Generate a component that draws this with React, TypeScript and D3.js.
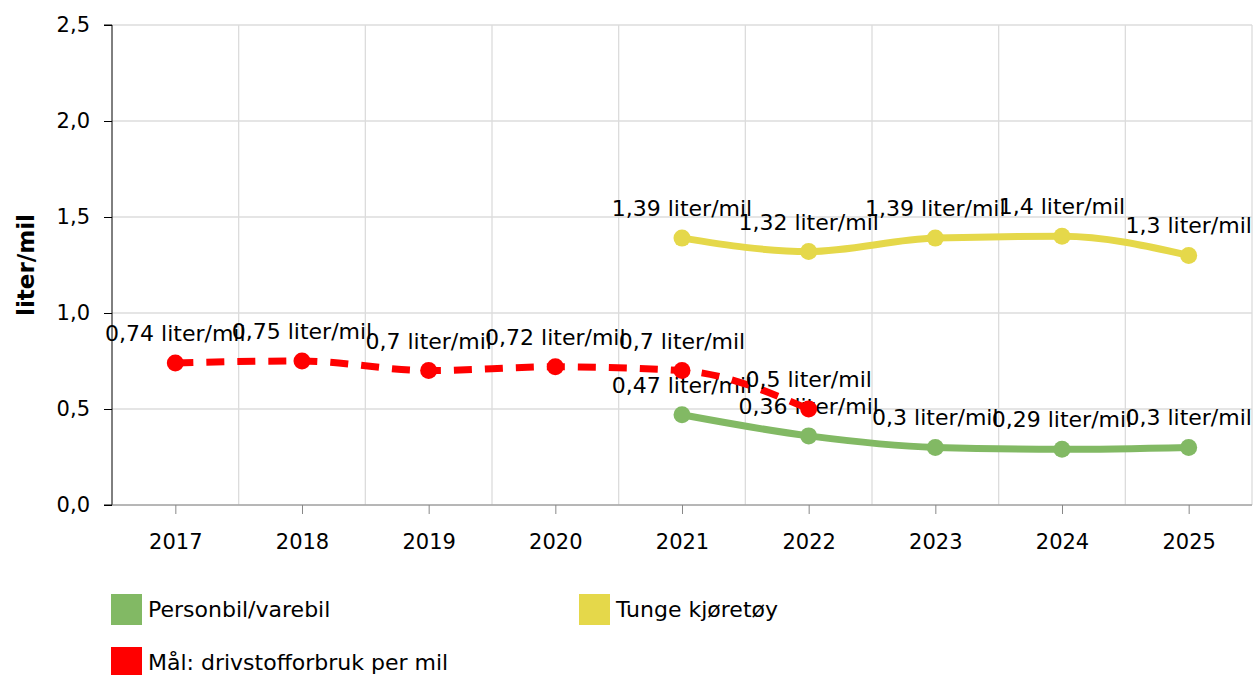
import React, { useEffect, useRef } from 'react'
import * as d3 from 'd3'

const years = ['2017', '2018', '2019', '2020', '2021', '2022', '2023', '2024', '2025']
const personbil = [null, null, null, null, 0.47, 0.36, 0.3, 0.29, 0.3]
const tunge = [null, null, null, null, 1.39, 1.32, 1.39, 1.4, 1.3]
const maal = [0.74, 0.75, 0.7, 0.72, 0.7, 0.5, null, null, null]
const yTicks = [0, 0.5, 1, 1.5, 2, 2.5]

const series = [
  { name: 'Personbil/varebil', values: personbil, color: '#82b964', dash: null },
  { name: 'Tunge kjøretøy', values: tunge, color: '#e5d84a', dash: null },
  { name: 'Mål: drivstofforbruk per mil', values: maal, color: '#ff0000', dash: '18,13' },
]

const W = 1255
const H = 675
const left = 112
const right = 1252
const top = 25
const bottom = 505
const font = 'DejaVu Sans, Verdana, sans-serif'

const no = d3.formatLocale({ decimal: ',', thousands: ' ', grouping: [3], currency: ['', ' kr'] })
const fmtAxis = no.format('.1f')
const fmtVal = (v: number) => no.format('~g')(v) + ' liter/mil'

const App = () => {
  const refX = useRef(null)
  const refY = useRef(null)

  const x = d3.scaleBand().domain(years).range([left, right])
  const cx = (d: string) => (x(d) as number) + x.bandwidth() / 2
  const y = d3.scaleLinear().domain([0, 2.5]).range([bottom, top])

  useEffect(() => {
    const yAxis = d3.axisLeft(y).tickValues(yTicks).tickFormat((d) => fmtAxis(+d)).tickSize(8).tickPadding(14)
    const gy = d3.select(refY.current).call(yAxis)
    gy.selectAll('text').style('font-size', '21px').style('font-family', font).attr('fill', '#000')
    gy.selectAll('line').attr('stroke', '#000')
    gy.select('.domain').attr('stroke', '#000').attr('d', `M-8,${top}H0V${bottom}H-8`)

    const xScale = d3.scalePoint().domain(years).range([cx(years[0]), cx(years[years.length - 1])])
    const xAxis = d3.axisBottom(xScale).tickSize(9).tickPadding(20)
    const gx = d3.select(refX.current).call(xAxis)
    gx.selectAll('text').style('font-size', '21px').style('font-family', font).attr('fill', '#000')
    gx.selectAll('line').attr('stroke', '#888')
    gx.select('.domain').attr('stroke', '#888').attr('d', `M${left},0H${right}`)
  }, [])

  const line = d3
    .line<[string, number | null]>()
    .defined((d) => d[1] != null)
    .x((d) => cx(d[0]))
    .y((d) => y(d[1] as number))
    .curve(d3.curveMonotoneX)

  return (
    <div style={{ position: 'absolute', left: 0, top: 0 }}>
      <svg width={W} height={H} style={{ display: 'block', background: '#fff' }}>
        {/* grid */}
        {yTicks.map((t) => (
          <line key={'h' + t} x1={left} x2={right} y1={y(t)} y2={y(t)} stroke="#dcdcdc" strokeWidth={1.3} />
        ))}
        {years.slice(1).map((d) => (
          <line key={'v' + d} x1={x(d)} x2={x(d)} y1={top} y2={bottom} stroke="#dcdcdc" strokeWidth={1.3} />
        ))}
        <line x1={right} x2={right} y1={top} y2={bottom} stroke="#dcdcdc" strokeWidth={1.3} />

        <g ref={refY} transform={`translate(${left},0)`} />
        <g ref={refX} transform={`translate(0,${bottom})`} />

        <text
          transform={`translate(34,${(top + bottom) / 2}) rotate(-90)`}
          textAnchor="middle"
          fontFamily={font}
          fontWeight="bold"
          fontSize={23}
        >
          liter/mil
        </text>

        {series.map((s) => {
          const pts = years.map((d, i) => [d, s.values[i]] as [string, number | null])
          return (
            <g key={s.name}>
              <path
                d={line(pts) || ''}
                fill="none"
                stroke={s.color}
                strokeWidth={7}
                strokeDasharray={s.dash || undefined}
              />
              {pts
                .filter((p) => p[1] != null)
                .map((p) => (
                  <circle key={p[0]} cx={cx(p[0])} cy={y(p[1] as number)} r={8.5} fill={s.color} />
                ))}
              {pts
                .filter((p) => p[1] != null)
                .map((p) => (
                  <text
                    key={'t' + p[0]}
                    x={cx(p[0])}
                    y={y(p[1] as number) - 22}
                    textAnchor="middle"
                    fontFamily={font}
                    fontSize={22}
                  >
                    {fmtVal(p[1] as number)}
                  </text>
                ))}
            </g>
          )
        })}

        {/* legend */}
        {series.map((s, i) => {
          const lx = i === 1 ? 579 : 111
          const ly = i === 2 ? 647 : 594
          return (
            <g key={'lg' + s.name}>
              <rect x={lx} y={ly} width={31} height={31} fill={s.color} />
              <text x={lx + 37} y={ly + 23} fontFamily={font} fontSize={22}>
                {s.name}
              </text>
            </g>
          )
        })}
      </svg>
    </div>
  )
}

export default App
